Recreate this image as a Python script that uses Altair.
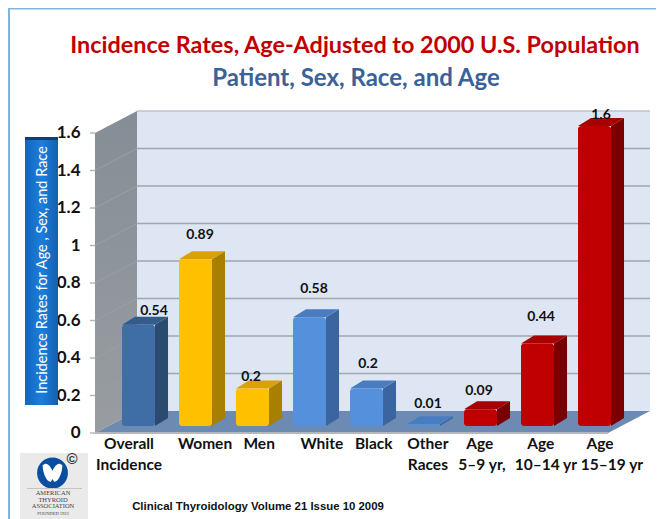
import altair as alt
import pandas as pd

categories = ["Overall Incidence", "Women", "Men", "White", "Black", "Other Races", "Age 5-9", "Age 10-14", "Age 15-19"]
values = [0.54, 0.89, 0.2, 0.58, 0.2, 0.01, 0.09, 0.44, 1.6]
groups = ["overall", "sex", "sex", "race", "race", "race", "age", "age", "age"]
value_text = ["0.54", "0.89", "0.2", "0.58", "0.2", "0.01", "0.09", "0.44", "1.6"]
value_label_x = [1.035, 1.842, 2.737, 3.842, 4.789, 5.842, 6.737, 7.825, 8.877]
value_label_y = [0.651, 1.056, 0.299, 0.768, 0.368, 0.155, 0.224, 0.619, 1.696]
line1_text = ["Overall", "Women", "Men", "White", "Black", "Other", "Age", "Age", "Age"]
line1_x = [0.596, 1.93, 2.88, 3.98, 4.89, 5.84, 6.75, 7.82, 8.86]
line2_text = ["Incidence", "Races", "5\u20139 yr,", "10\u201314 yr", "15\u201319 yr"]
line2_x = [0.596, 5.84, 6.79, 7.91, 9.07]
tick_values = [0, 0.2, 0.4, 0.6, 0.8, 1, 1.2, 1.4, 1.6]
tick_text = ["0", "0.2", "0.4", "0.6", "0.8", "1", "1.2", "1.4", "1.6"]

group_names = ["overall", "sex", "race", "age"]
front_colors = ["#3f6ea6", "#ffc000", "#5590dc", "#c00000"]
side_colors = ["#2b4a70", "#a87f00", "#3a65a0", "#780000"]
top_colors = ["#345c8a", "#d9a200", "#4a7cc0", "#a80000"]

W, H = 555, 323
X_UNIT, Y_UNIT = 57.0, 187.5
DX, DY = 42 / X_UNIT, 22 / Y_UNIT
XMAX, YMAX = W / X_UNIT, H / Y_UNIT
FRONT_W = XMAX - DX
BAR_L, BAR_W = 0.474, 0.579
BASE = 7 / Y_UNIT
BDX, BDY = 13 / X_UNIT, 8 / Y_UNIT

NARROW = "Lato"
SANS = "Liberation Sans, Arial"

xs = alt.Scale(domain=[0, XMAX], nice=False, zero=False)
ys = alt.Scale(domain=[0, YMAX], nice=False, zero=False)
X = alt.X("x:Q", scale=xs, axis=None)
Y = alt.Y("y:Q", scale=ys, axis=None)

def px(v):
    return v - 95

def py(v):
    return v - 110

def area(rows, **mark):
    df = pd.DataFrame(rows, columns=["x", "y", "y2"])
    return alt.Chart(df).mark_area(interpolate="linear", **mark).encode(x=X, y=Y, y2="y2:Q")

def box(x0, x1, y0, y1, **mark):
    return alt.Chart(pd.DataFrame({"a": [1]})).mark_rect(**mark).encode(
        x=alt.value(px(x0)), x2=alt.value(px(x1)), y=alt.value(py(y0)), y2=alt.value(py(y1)))

def label(text, x, y, **mark):
    return alt.Chart(pd.DataFrame({"t": [text]})).mark_text(**mark).encode(
        x=alt.value(px(x)), y=alt.value(py(y)), text="t:N")

layers = []

# frame
layers.append(box(8, 664, 8, 9.5, color="#7db5de"))
layers.append(box(8, 10, 8, 519, color="#7db5de"))

# walls and floor
wall = pd.DataFrame({"x": [DX], "x2": [XMAX], "y": [1.6 + DY], "y2": [DY]})
layers.append(alt.Chart(wall).mark_rect(color="#dde6f2").encode(x=X, x2="x2:Q", y=Y, y2="y2:Q"))
layers.append(area([(0, 1.6, 0), (DX, 1.6 + DY, DY)], color=alt.Gradient(
    gradient="linear", x1=0, y1=0, x2=0, y2=1,
    stops=[alt.GradientStop(offset=0, color="#858d96"), alt.GradientStop(offset=1, color="#999da1")])))
layers.append(area([(0, 0, 0), (DX, DY, 0), (FRONT_W, DY, 0), (XMAX, DY, DY)], color="#6d8ab3"))

grid = pd.DataFrame({"x": DX, "x2": XMAX, "y": [v + DY for v in tick_values[1:8]]})
layers.append(alt.Chart(grid).mark_rule(color="#a2a6ad", strokeWidth=1.5).encode(x=X, x2="x2:Q", y=Y))
top_edge = pd.DataFrame({"x": [DX], "x2": [XMAX], "y": [1.6 + DY]})
layers.append(alt.Chart(top_edge).mark_rule(color="#bcc2cb", strokeWidth=1.5).encode(x=X, x2="x2:Q", y=Y))
front_edge = pd.DataFrame({"x": [0], "x2": [FRONT_W], "y": [0]})
layers.append(alt.Chart(front_edge).mark_rule(color="#b4b8bd", strokeWidth=2).encode(x=X, x2="x2:Q", y=Y))

slant = []
for v in tick_values[1:8]:
    slant += [{"k": v, "x": 0, "y": v}, {"k": v, "x": DX, "y": v + DY}]
layers.append(alt.Chart(pd.DataFrame(slant)).mark_line(color="#9aa0a6", strokeWidth=1).encode(x=X, y=Y, detail="k:N"))

# axis ticks and labels
ticks = pd.DataFrame({"y": tick_values, "t": tick_text})
layers.append(alt.Chart(ticks).mark_rule(color="#b4b8bd", strokeWidth=1.5).encode(
    x=alt.value(-5), x2=alt.value(0), y=Y))
layers.append(alt.Chart(ticks).mark_text(
    align="right", font=NARROW, fontWeight="bold", fontSize=17, color="#111111").encode(
    x=alt.value(px(80.5)), y=Y, text="t:N"))

# bars
side_rows, top_rows, front_rows = [], [], []
for i, (c, v, g) in enumerate(zip(categories, values, groups)):
    l, r = i + BAR_L, i + BAR_L + BAR_W
    t, b = v + BASE, BASE
    front_rows.append({"c": c, "g": g, "x": l, "x2": r, "y": t, "y2": b})
    side_rows += [{"c": c, "g": g, "x": r, "y": t, "y2": b},
                  {"c": c, "g": g, "x": r + BDX, "y": t + BDY, "y2": b + BDY}]
    top_rows += [{"c": c, "g": g, "x": l, "y": t, "y2": t},
                 {"c": c, "g": g, "x": l + BDX, "y": t + BDY, "y2": t},
                 {"c": c, "g": g, "x": r, "y": t + BDY, "y2": t},
                 {"c": c, "g": g, "x": r + BDX, "y": t + BDY, "y2": t + BDY}]

def col(rng):
    return alt.Color("g:N", scale=alt.Scale(domain=group_names, range=rng), legend=None)

layers.append(alt.Chart(pd.DataFrame(side_rows)).mark_area(interpolate="linear").encode(
    x=X, y=Y, y2="y2:Q", color=col(side_colors), detail="c:N"))
layers.append(alt.Chart(pd.DataFrame(top_rows)).mark_area(interpolate="linear").encode(
    x=X, y=Y, y2="y2:Q", color=col(top_colors), detail="c:N"))
layers.append(alt.Chart(pd.DataFrame(front_rows)).mark_rect(cornerRadius=3).encode(
    x=X, x2="x2:Q", y=Y, y2="y2:Q", color=col(front_colors)))

# value labels
layers.append(alt.Chart(pd.DataFrame({"x": value_label_x, "y": value_label_y, "t": value_text})).mark_text(
    font=NARROW, fontWeight="bold", fontSize=14, color="#111111").encode(x=X, y=Y, text="t:N"))

# category labels
layers.append(alt.Chart(pd.DataFrame({"x": line1_x, "t": line1_text, "y": -0.059})).mark_text(
    font=NARROW, fontWeight="bold", fontSize=15.5, color="#111111").encode(x=X, y=Y, text="t:N"))
layers.append(alt.Chart(pd.DataFrame({"x": line2_x, "t": line2_text, "y": -0.171})).mark_text(
    font=NARROW, fontWeight="bold", fontSize=15.5, color="#111111").encode(x=X, y=Y, text="t:N"))

# titles
layers.append(label("Incidence Rates, Age-Adjusted to 2000 U.S. Population", 355, 46,
                    font=NARROW, fontWeight="bold", fontSize=23.4, color="#c00000"))
layers.append(label("Patient, Sex, Race, and Age", 356, 79,
                    font=NARROW, fontWeight="bold", fontSize=24, color="#3b6199"))

# y-title box
layers.append(box(25, 58, 137, 405, color=alt.Gradient(
    gradient="linear", x1=0, y1=0, x2=1, y2=0,
    stops=[alt.GradientStop(offset=0, color="#1565b8"), alt.GradientStop(offset=0.5, color="#1b7fdc"),
           alt.GradientStop(offset=1, color="#155fae")])))
layers.append(box(25, 58, 137, 140, color="#0f3f78"))
layers.append(label("Incidence Rates for Age , Sex, and Race", 43, 270, angle=270,
                    font=NARROW, fontSize=14.5, color="#ffffff"))

# logo
layers.append(box(20, 88, 453, 519, color="#eaeaea"))
circle = pd.DataFrame({"a": [1]})
layers.append(alt.Chart(circle).mark_point(shape="circle", filled=True, opacity=1, size=950, color="#0a4ea2").encode(
    x=alt.value(px(52.5)), y=alt.value(py(473))))
layers.append(alt.Chart(circle).mark_point(
    shape="M-0.9,-0.7 C-0.5,-1.1 -0.2,-0.6 0,-0.2 C0.2,-0.6 0.5,-1.1 0.9,-0.7 C0.9,0 0.5,0.9 0.15,0.8 L0,0.55 L-0.15,0.8 C-0.5,0.9 -0.9,0 -0.9,-0.7 Z",
    filled=True, opacity=1, size=480, color="#ffffff").encode(x=alt.value(px(52.5)), y=alt.value(py(473))))
layers.append(label("\u00a9", 72, 459, font=SANS, fontWeight="bold", fontSize=15, color="#333333"))
layers.append(box(27, 82, 488, 489, color="#c4c4c4"))
for text, y, size in [("AMERICAN", 493, 6.5), ("THYROID", 499.5, 6.5), ("ASSOCIATION", 506, 6.5), ("FOUNDED 1923", 514, 4.5)]:
    layers.append(label(text, 53, y, font="Liberation Serif", fontSize=size, color="#444444"))

# source
layers.append(label("Clinical Thyroidology Volume 21 Issue 10 2009", 258, 507,
                    font=SANS, fontWeight="bold", fontSize=11.4, color="#111111"))

chart = alt.layer(*layers).resolve_scale(color="independent").properties(
    width=W, height=H,
    autosize=alt.AutoSizeParams(type="none"),
    padding={"left": 87, "top": 102, "right": 6, "bottom": 86},
).configure_view(stroke=None)

chart.save("out.html", embed_options={"renderer": "svg", "actions": False})
